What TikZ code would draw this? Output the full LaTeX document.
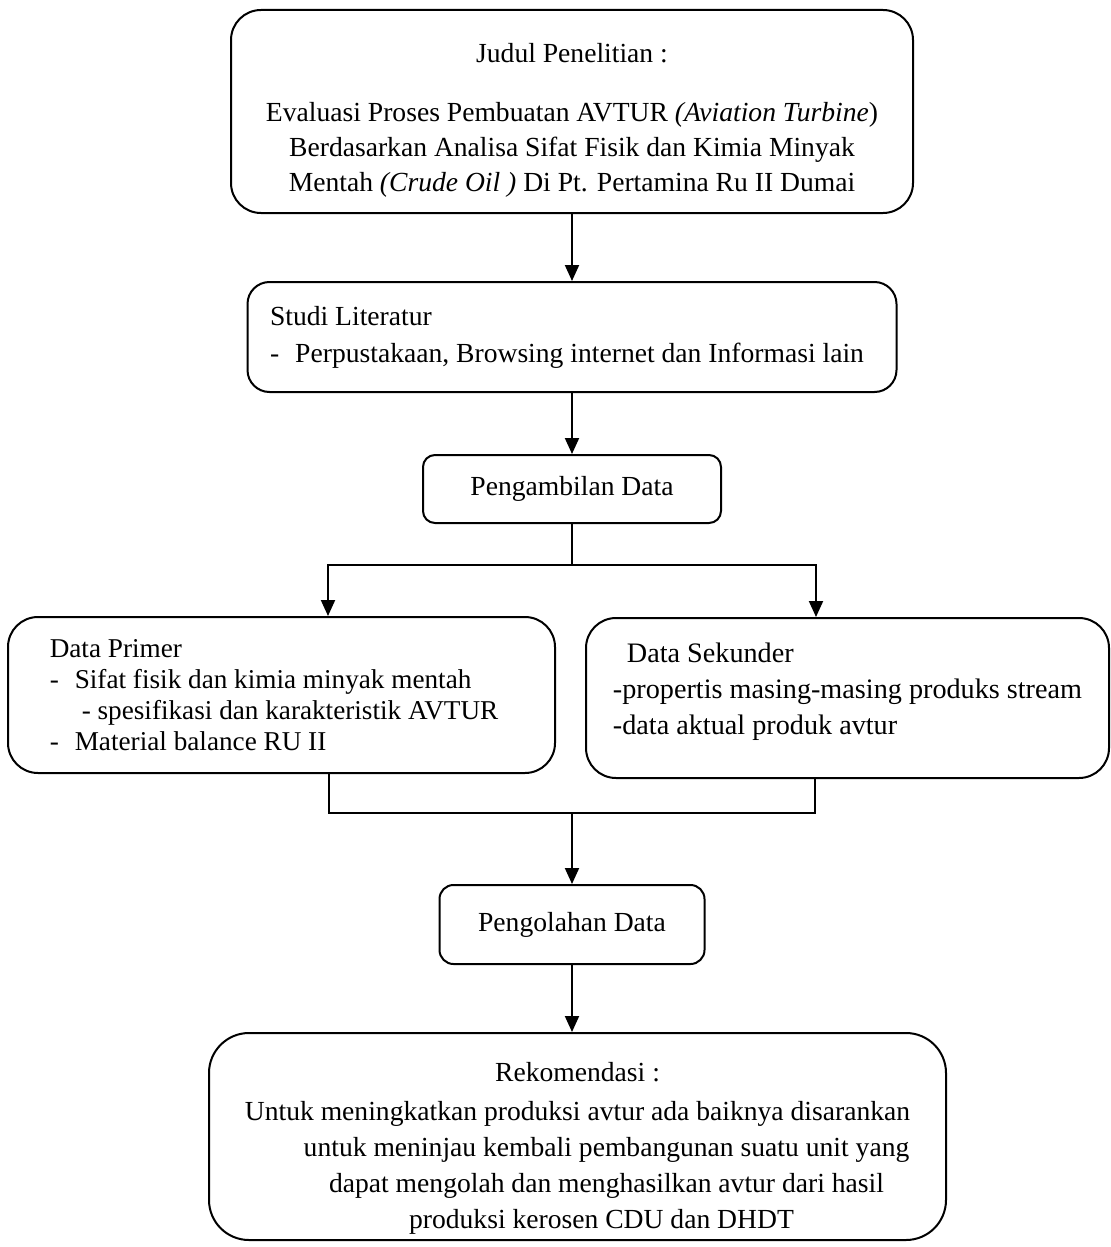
\documentclass[tikz,border=0pt]{standalone}
\usepackage{fontspec}
\setmainfont{Liberation Serif}
\usetikzlibrary{arrows.meta, positioning}

\begin{document}
\begin{tikzpicture}[x=0.5pt, y=-0.5pt,
  box/.style={draw, line width=1pt, rounded corners=#1, inner sep=0pt,
    font=\fontsize{13.8}{17.5}\selectfont},
  box/.default=7pt,
  link/.style={line width=1pt},
  flow/.style={link, -{Triangle[length=8pt, width=7pt]}}]
  \useasboundingbox (0,0) rectangle (1111,1247);

  \node[box=15pt, minimum width=341pt, minimum height=101.5pt, align=center] (judul) at (572,111.5)
    {\rule{0pt}{18.5pt}Judul Penelitian :\\[12pt]
     Evaluasi Proses Pembuatan AVTUR \textit{(Aviation Turbine})\\
     Berdasarkan Analisa Sifat Fisik dan Kimia Minyak\\
     Mentah \textit{(Crude Oil )} Di Pt. Pertamina Ru II Dumai};

  \node[box=11pt, minimum width=324.5pt, minimum height=55pt, align=left,
    font=\fontsize{13.8}{18.5}\selectfont] (studi) at (572,337)
    {Studi Literatur\\
     -\hspace{8pt}Perpustakaan, Browsing internet dan Informasi lain\hspace*{5pt}\mbox{}};

  \node[box=6pt, minimum width=149pt, minimum height=34pt] (ambil) at (572,489) {Pengambilan Data};

  \node[box=15pt, minimum width=273.5pt, minimum height=78pt, align=left,
    font=\fontsize{13.6}{15.5}\selectfont] (primer) at (281.5,695)
    {Data Primer\\
     -\hspace{8pt}Sifat fisik dan kimia minyak mentah\\
     \hspace*{16pt}- spesifikasi dan karakteristik AVTUR\hspace*{7.5pt}\mbox{}\\
     -\hspace{8pt}Material balance RU II};

  \node[box=15pt, minimum width=261.5pt, minimum height=80pt, align=left,
    font=\fontsize{14.1}{18}\selectfont] (sekunder) at (847.5,698)
    {\hspace*{7pt}Data Sekunder\\
     -propertis masing-masing produks stream\\
     -data aktual produk avtur\\[-9pt]\mbox{}};

  \node[box=7pt, minimum width=132.5pt, minimum height=39.5pt] (olah) at (572,924.5) {Pengolahan Data};

  \node[box=20pt, minimum width=368.5pt, minimum height=103.5pt, align=center,
    font=\fontsize{13.8}{18}\selectfont] (rekom) at (577.5,1136.5)
    {\rule{0pt}{21.5pt}Rekomendasi :\\[1.5pt]
     Untuk meningkatkan produksi avtur ada baiknya disarankan\\
     \hspace*{29pt}untuk meninjau kembali pembangunan suatu unit yang\\
     \hspace*{29pt}dapat mengolah dan menghasilkan avtur dari hasil\\
     \hspace*{24pt}produksi kerosen CDU dan DHDT};

  \coordinate (cabang) at (572,565);
  \coordinate (gabung) at (572,813);

  \draw[flow] (judul) -- (studi);
  \draw[flow] (studi) -- (ambil);
  \draw[link] (ambil) -- (cabang);
  \draw[flow] (cabang) -| ([xshift=23.25pt]primer.north);
  \draw[flow] (cabang) -| ([xshift=-15.75pt]sekunder.north);
  \draw[link] ([xshift=23.75pt]primer.south) |- (gabung) -| ([xshift=-16.25pt]sekunder.south);
  \draw[flow] (gabung) -- (olah);
  \draw[flow] (olah) -- (rekom.north -| olah.south);
\end{tikzpicture}
\end{document}
